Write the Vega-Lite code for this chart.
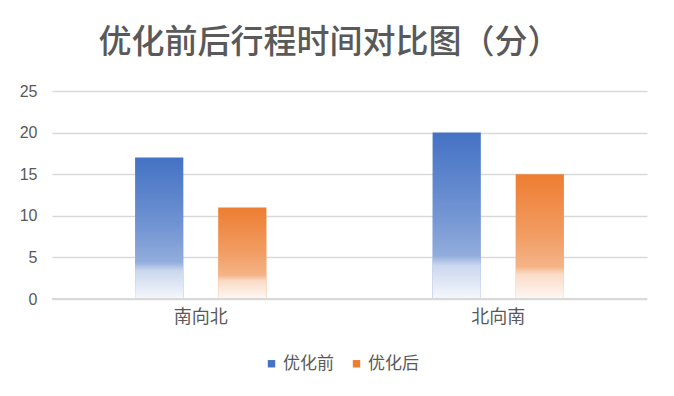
{
  "$schema": "https://vega.github.io/schema/vega-lite/v6.json",
  "autosize": {"type": "none"},
  "width": 595,
  "height": 208,
  "padding": {"left": 52, "top": 91, "right": 27, "bottom": 97},
  "background": "white",
  "data": {"values": [
    {"dir": "南向北", "series": "优化前", "minutes": 17},
    {"dir": "南向北", "series": "优化后", "minutes": 11},
    {"dir": "北向南", "series": "优化前", "minutes": 20},
    {"dir": "北向南", "series": "优化后", "minutes": 15}
  ]},
  "title": {
    "text": "优化前后行程时间对比图（分）",
    "font": "Noto Sans CJK SC",
    "fontSize": 33,
    "fontWeight": 500,
    "color": "#595959",
    "anchor": "middle",
    "offset": 23,
    "dx": -20
  },
  "config": {
    "view": {"stroke": null},
    "font": "Noto Sans CJK SC"
  },
  "encoding": {
    "x": {
      "field": "dir", "type": "nominal", "sort": ["南向北", "北向南"],
      "scale": {"paddingInner": 0, "paddingOuter": 0},
      "axis": {"title": null, "labelAngle": 0, "labelFontSize": 18, "labelColor": "#595959", "labelPadding": 9, "ticks": false, "domain": false, "labelFont": "Noto Sans CJK SC"}
    },
    "xOffset": {
      "field": "series", "type": "nominal", "sort": ["优化前", "优化后"],
      "scale": {"paddingInner": 0.42, "paddingOuter": 1.047}
    },
    "y": {
      "field": "minutes", "type": "quantitative",
      "scale": {"domain": [0, 25]},
      "axis": {"title": null, "values": [0, 5, 10, 15, 20, 25], "labelFontSize": 16, "labelColor": "#595959", "labelPadding": 15, "ticks": false, "domain": false, "gridColor": "#D9D9D9", "gridWidth": 1.3, "labelFont": "Liberation Sans"}
    }
  },
  "layer": [
    {
      "mark": {"type": "bar"},
      "encoding": {
        "color": {
          "field": "series", "type": "nominal", "sort": ["优化前", "优化后"],
          "scale": {"domain": ["优化前", "优化后"], "range": ["#4472C4", "#ED7D31"]},
          "legend": {"title": null, "orient": "none", "legendX": 211, "legendY": 264, "direction": "horizontal", "symbolType": "square", "symbolSize": 55, "labelFontSize": 17, "labelColor": "#595959", "labelOffset": 3, "columnPadding": 14, "labelFont": "Noto Sans CJK SC", "symbolOpacity": 1}
        }
      }
    },
    {
      "mark": {
        "type": "bar",
        "fill": {
          "gradient": "linear", "x1": 0, "y1": 0, "x2": 0, "y2": 1,
          "stops": [
            {"offset": 0, "color": "rgba(255,255,255,0)"},
            {"offset": 0.5, "color": "rgba(255,255,255,0.25)"},
            {"offset": 0.74, "color": "rgba(255,255,255,0.42)"},
            {"offset": 0.8, "color": "rgba(255,255,255,0.72)"},
            {"offset": 1, "color": "rgba(255,255,255,0.95)"}
          ]
        }
      }
    },
    {
      "mark": {"type": "rule", "color": "#D9D9D9", "strokeWidth": 2},
      "encoding": {"y": {"datum": 0}, "x": null, "xOffset": null}
    }
  ]
}
